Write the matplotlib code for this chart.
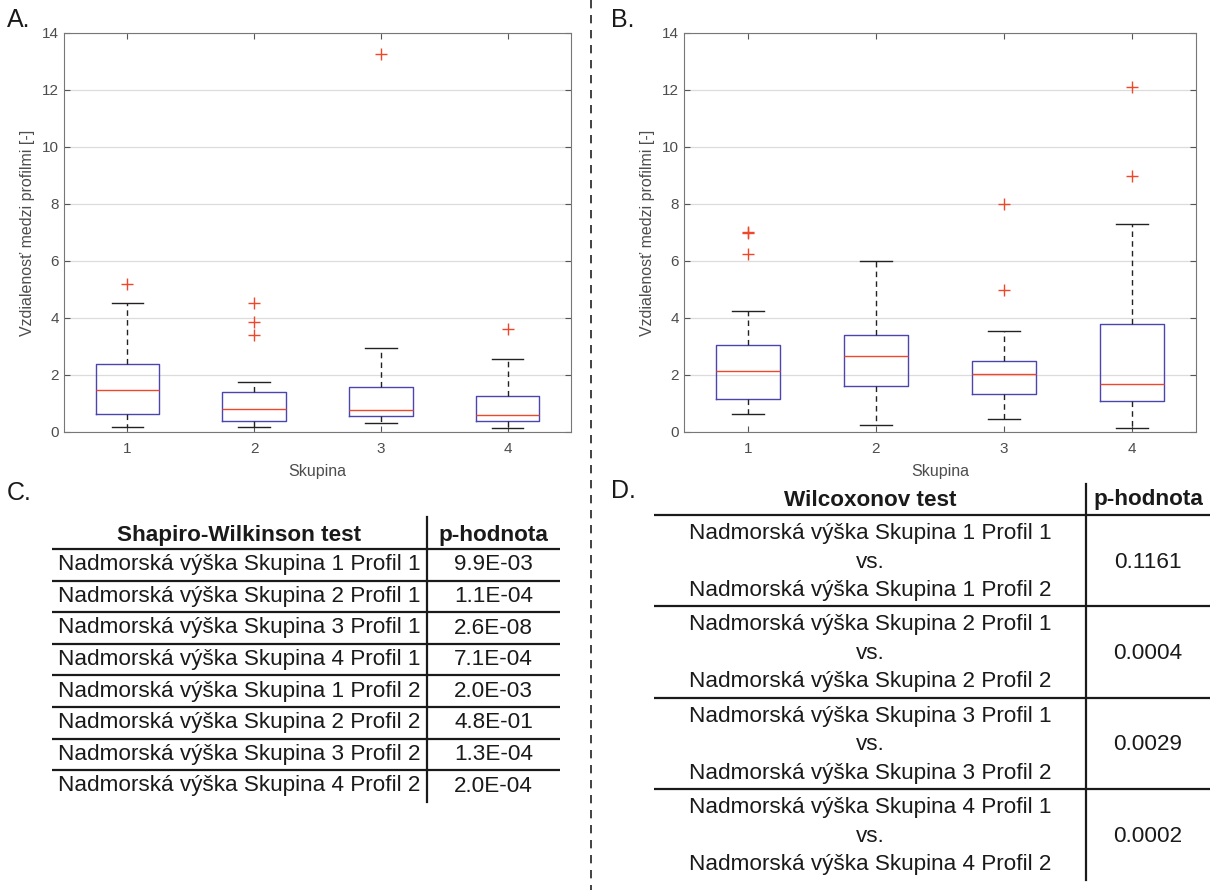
import matplotlib
matplotlib.use("Agg")
import matplotlib.pyplot as plt

plt.rcParams['font.family'] = ['Liberation Sans', 'DejaVu Sans']

groups = [1, 2, 3, 4]

# panel A - box plot stats
a_whislo = [0.19, 0.16, 0.30, 0.13]
a_q1 = [0.62, 0.37, 0.56, 0.37]
a_med = [1.47, 0.79, 0.76, 0.61]
a_q3 = [2.40, 1.39, 1.58, 1.27]
a_whishi = [4.53, 1.75, 2.93, 2.55]
a_fliers = [[5.18], [4.51, 3.86, 3.39], [13.28], [3.61]]

# panel B
b_whislo = [0.64, 0.25, 0.44, 0.15]
b_q1 = [1.17, 1.62, 1.33, 1.08]
b_med = [2.13, 2.66, 2.05, 1.69]
b_q3 = [3.04, 3.42, 2.48, 3.79]
b_whishi = [4.25, 6.01, 3.54, 7.29]
b_fliers = [[7.00, 6.97, 6.26], [], [8.00, 4.97], [12.12, 8.97]]

# table C
sw_header = ["Shapiro-Wilkinson test", "p-hodnota"]
sw_names = ["Nadmorská výška Skupina %d Profil %d" % (g, p) for p in (1, 2) for g in groups]
sw_pvals = ["9.9E-03", "1.1E-04", "2.6E-08", "7.1E-04",
            "2.0E-03", "4.8E-01", "1.3E-04", "2.0E-04"]

# table D
wx_header = ["Wilcoxonov test", "p-hodnota"]
wx_pvals = ["0.1161", "0.0004", "0.0029", "0.0002"]

box_c = '#4b45b0'
red_c = '#f0462a'
txt_c = '#4d4d4d'

W, H = 1211, 890
fig = plt.figure(figsize=(W / 100, H / 100), dpi=100)

# overlay in pixel coords for the tables / divider
ov = fig.add_axes([0, 0, 1, 1])
ov.set_xlim(0, W)
ov.set_ylim(H, 0)
ov.axis('off')


def make_stats(lo, q1, med, q3, hi, fl):
    return [dict(whislo=lo[i], q1=q1[i], med=med[i], q3=q3[i], whishi=hi[i],
                 fliers=fl[i]) for i in range(len(lo))]


def box_panel(rect, stats):
    ax = fig.add_axes(rect)
    ax.bxp(stats, positions=groups, widths=0.5, capwidths=0.25,
           boxprops=dict(color=box_c, lw=1.0),
           medianprops=dict(color=red_c, lw=1.0),
           whiskerprops=dict(color='#222222', lw=1.0, ls=(0, (4, 3))),
           capprops=dict(color='#222222', lw=1.0),
           flierprops=dict(marker='+', markeredgecolor=red_c, markersize=8,
                           markeredgewidth=1.0, linestyle='none'))
    ax.set_xlim(0.5, 4.5)
    ax.set_ylim(0, 14)
    ax.set_yticks(range(0, 15, 2))
    ax.set_xticks(groups)
    ax.set_xticklabels([str(g) for g in groups])
    ax.yaxis.grid(True, color='#dcdcdc', lw=0.9)
    ax.set_axisbelow(True)
    ax.tick_params(direction='in', top=True, right=True, length=4,
                   colors='#555555', labelcolor=txt_c, labelsize=11)
    ax.tick_params(axis='x', pad=7)
    for s in ax.spines.values():
        s.set_color('#777777')
    ax.set_xlabel('Skupina', fontsize=11.5, color=txt_c, labelpad=6)
    ax.set_ylabel('Vzdialenosť medzi profilmi [-]', fontsize=11.5, color=txt_c, labelpad=5)
    return ax


axA = box_panel([64 / W, 1 - 432 / H, 507 / W, 399 / H],
                make_stats(a_whislo, a_q1, a_med, a_q3, a_whishi, a_fliers))
axB = box_panel([684 / W, 1 - 432 / H, 512 / W, 399 / H],
                make_stats(b_whislo, b_q1, b_med, b_q3, b_whishi, b_fliers))

# panel letters
for lab, x, y in [("A.", 7, 20), ("B.", 611, 20), ("C.", 7, 493), ("D.", 611, 491)]:
    ov.text(x, y, lab, fontsize=18, color='#1a1a1a', ha='left', va='center')

# divider
ov.plot([591, 591], [0, H], color='#222222', lw=1.2, ls=(0, (5, 4)))

fs = 16.2
lw_t = 1.6

# table C
cx0, cx1, cxs = 52, 560, 427
cy0, ch = 549, 31.6
ov.text((cx0 + cxs) / 2, 535, sw_header[0], ha='center', va='center', fontsize=fs, fontweight='bold', color='#1a1a1a')
ov.text((cxs + cx1) / 2, 535, sw_header[1], ha='center', va='center', fontsize=fs, fontweight='bold', color='#1a1a1a')
for k in range(len(sw_names)):
    ov.plot([cx0, cx1], [cy0 + k * ch] * 2, color='#1a1a1a', lw=lw_t, solid_capstyle='butt')
    yc = cy0 + (k + 0.5) * ch
    ov.text((cx0 + cxs) / 2, yc, sw_names[k], ha='center', va='center', fontsize=fs, color='#1a1a1a')
    ov.text((cxs + cx1) / 2, yc, sw_pvals[k], ha='center', va='center', fontsize=fs, color='#1a1a1a')
ov.plot([cxs, cxs], [517, cy0 + len(sw_names) * ch], color='#1a1a1a', lw=lw_t)

# table D
dx0, dx1, dxs = 654, 1210, 1086
dy0, dh = 515, 91.3
ov.text((dx0 + dxs) / 2, 500, wx_header[0], ha='center', va='center', fontsize=fs, fontweight='bold', color='#1a1a1a')
ov.text((dxs + dx1) / 2, 500, wx_header[1], ha='center', va='center', fontsize=fs, fontweight='bold', color='#1a1a1a')
for k, pv in enumerate(wx_pvals):
    ov.plot([dx0, dx1], [dy0 + k * dh] * 2, color='#1a1a1a', lw=lw_t, solid_capstyle='butt')
    yc = dy0 + (k + 0.5) * dh + 1.5
    g = groups[k]
    lines = ["Nadmorská výška Skupina %d Profil 1" % g, "vs.",
             "Nadmorská výška Skupina %d Profil 2" % g]
    for j, t in enumerate(lines):
        ov.text((dx0 + dxs) / 2, yc + (j - 1) * 28.5, t, ha='center', va='center', fontsize=fs, color='#1a1a1a')
    ov.text((dxs + dx1) / 2, yc, pv, ha='center', va='center', fontsize=fs, color='#1a1a1a')
ov.plot([dxs, dxs], [484, 880], color='#1a1a1a', lw=lw_t)

fig.savefig('out.png', dpi=100)
